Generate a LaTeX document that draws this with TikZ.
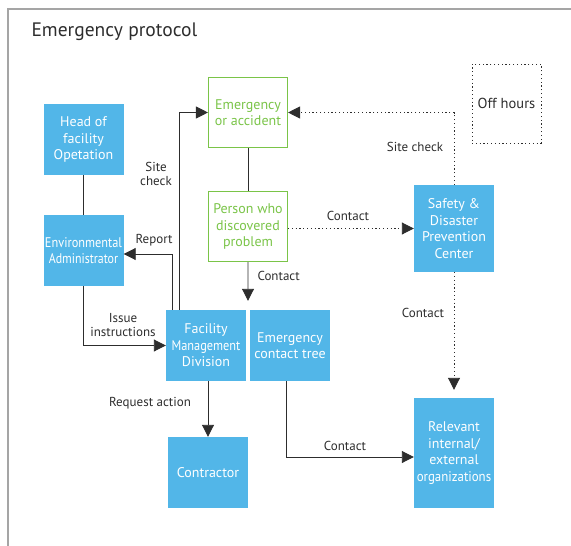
\documentclass[tikz,border=0pt]{standalone}
\usepackage{fontspec}
\setmainfont{PT Sans}
\usepackage{graphicx}
\usetikzlibrary{arrows.meta, positioning, calc}
\definecolor{skyblue}{RGB}{82,182,232}
\definecolor{leafgreen}{RGB}{122,196,72}
\definecolor{inkgray}{RGB}{45,45,45}
\definecolor{framegray}{RGB}{165,165,165}
\newcommand{\narrow}[2]{\scalebox{#1}[1]{#2}}

\begin{document}
\begin{tikzpicture}[x=1pt, y=-1pt,
  bluebox/.style={fill=skyblue, text=white, align=center, inner sep=0pt,
    minimum width=80pt, minimum height=71pt, font=\fontsize{14}{16.5}\selectfont},
  greenbox/.style={draw=leafgreen, line width=1.1pt, text=leafgreen, align=center, inner sep=0pt,
    minimum width=79pt, minimum height=70pt, font=\fontsize{14}{16.5}\selectfont},
  wire/.style={draw=inkgray, line width=0.9pt},
  link/.style={wire, -{Triangle[length=12pt, width=12pt]}},
  dotlink/.style={link, dash pattern=on 1.2pt off 2.6pt},
  lbl/.style={text=inkgray, align=center, font=\fontsize{13}{14.5}\selectfont}]
  \useasboundingbox (0,0) rectangle (571,546);

  % frame and title
  \draw[framegray, line width=1.4pt] (8,546) -- (8,9) -- (571,9);
  \node[anchor=west, text=inkgray, font=\fontsize{19.5}{22}\selectfont] (title) at (28,32) {Emergency protocol};

  % boxes
  \node[bluebox] (head) at (83.5,139.5) {Head of\\facility\\Opetation};
  \node[bluebox] (envadm) at (83.5,250.5) {\narrow{0.88}{Environmental}\\\narrow{0.85}{Administrator}};
  \node[greenbox] (emerg) at (248,112.5) {Emergency\\or accident};
  \node[greenbox] (person) at (248,226.5) {Person who\\discovered\\problem};
  \node[bluebox] (fmd) at (206,345.5) {Facility\\\narrow{0.88}{Management}\\Division};
  \node[bluebox] (ect) at (290,345.5) {Emergency\\contact tree};
  \node[bluebox] (contractor) at (208,472.5) {Contractor};
  \node[bluebox, minimum height=87pt] (safety) at (454,228.5) {Safety \&\\Disaster\\Prevention\\Center};
  \node[bluebox, minimum height=110pt] (relevant) at (454,453) {Relevant\\internal/\\external\\\narrow{0.92}{organizations}};
  \node[draw=inkgray, line width=1pt, dash pattern=on 1.2pt off 2.6pt, minimum width=69pt, minimum height=79pt,
    text=inkgray, font=\fontsize{14.5}{16.5}\selectfont] (offhours) at (506.5,103.5) {Off hours};

  % solid links
  \draw[wire] (head.south) -- (envadm.north);
  \draw[wire] (emerg.south) -- (person.north);
  \coordinate (gap) at ($(fmd.north east)!0.5!(ect.north west)$);
  \draw[link, shorten >=9pt] (person.south) -- (gap);
  \draw[link] (envadm.south) |- (fmd.west);
  \draw[link] ([xshift=-34pt]fmd.north) |- ([yshift=-3.5pt]envadm.east);
  \draw[link] ([xshift=-27pt]fmd.north) |- (emerg.west);
  \draw[link] (contractor.north |- fmd.south) -- (contractor.north);
  \draw[link] ([xshift=-4pt]ect.south) |- ([yshift=-4pt]relevant.west);

  % dotted links
  \draw[dotlink] (safety.north) |- (emerg.east);
  \draw[dotlink] (person.east |- safety.west) -- (safety.west);
  \draw[dotlink, shorten >=8pt] (safety.south) -- (relevant.north);

  % labels
  \node[lbl] (lsiteleft) at (156,174) {Site\\check};
  \node[lbl] (lreport) at (154,240) {Report};
  \node[lbl] (lissue) at (123,325) {Issue\\instructions};
  \node[lbl, anchor=west] (lcontactdown) at (254,276) {Contact};
  \node[lbl] (lcontactsafety) at (348,216) {Contact};
  \node[lbl] (lsiteright) at (415,147) {Site check};
  \node[lbl] (lcontactrel) at (423,313) {Contact};
  \node[lbl] (lrequest) at (150,403) {Request action};
  \node[lbl] (lcontacttree) at (345,446) {Contact};
\end{tikzpicture}
\end{document}
